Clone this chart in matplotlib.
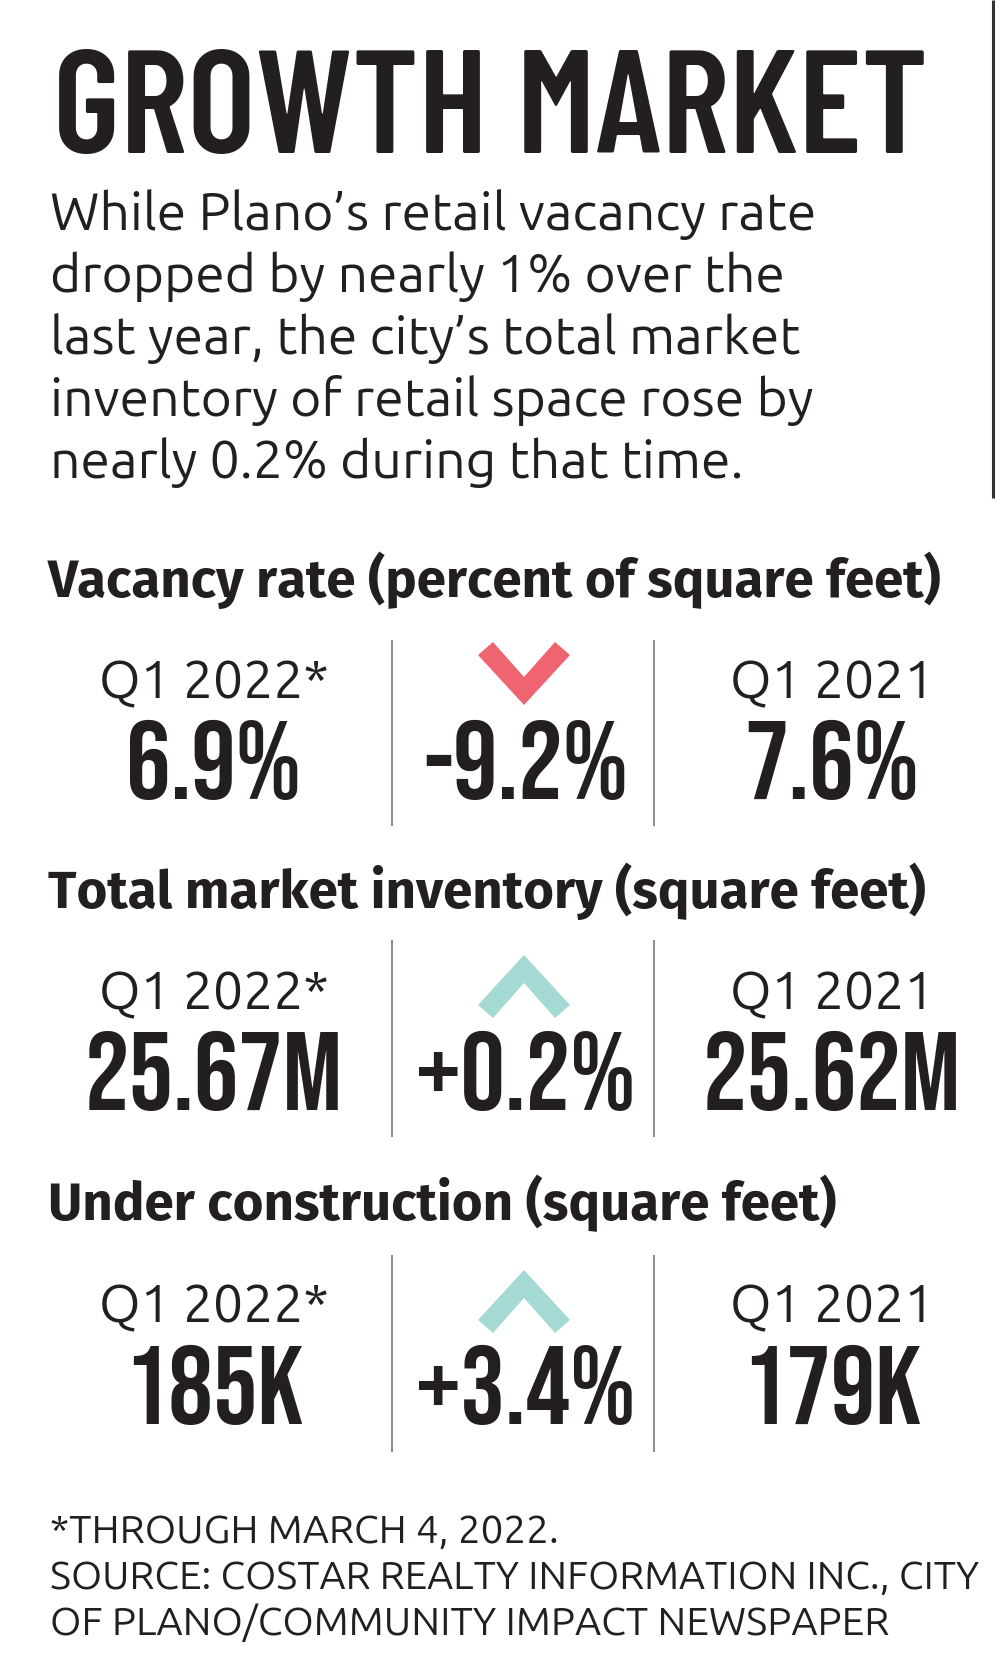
import matplotlib
matplotlib.use("Agg")
import matplotlib.pyplot as plt
from matplotlib.patches import Polygon

# --- Data ----------------------------------------------------------------
title = "GROWTH MARKET"
intro_lines = [
    "While Plano’s retail vacancy rate",
    "dropped by nearly 1% over the",
    "last year, the city’s total market",
    "inventory of retail space rose by",
    "nearly 0.2% during that time.",
]
sections = [
    "Vacancy rate (percent of square feet)",
    "Total market inventory (square feet)",
    "Under construction (square feet)",
]
period_labels = ["Q1 2022*", "Q1 2021"]
current_values = ["6.9%", "25.67M", "185K"]
previous_values = ["7.6%", "25.62M", "179K"]
change_pct = [-9.2, 0.2, 3.4]
footnote_lines = [
    "*THROUGH MARCH 4, 2022.",
    "SOURCE: COSTAR REALTY INFORMATION INC., CITY",
    "OF PLANO/COMMUNITY IMPACT NEWSPAPER",
]

# --- Style / layout ------------------------------------------------------
INK = "#231f20"
DOWN_COLOR = "#ee6470"
UP_COLOR = "#a4dad3"
RULE_COLOR = "#8c8c8c"

TITLE_FONT = ["Barlow Condensed", "DejaVu Sans"]
NUM_FONT = ["Bebas Neue", "Barlow Condensed", "DejaVu Sans"]
BODY = ["Ubuntu", "DejaVu Sans"]
HEAD = ["Fira Sans", "DejaVu Sans"]

W, H = 1000, 1680
LEFT = 50
col_x = [214, 526, 832]
divider_x = [392, 654]
header_y = [597, 908, 1220]
rule_top = [640, 940, 1255]
rule_bottom = [826, 1137, 1452]
label_y = [698, 1009, 1322]
value_y = [799, 1110, 1424]

fig = plt.figure(figsize=(W / 100, H / 100), dpi=100)
ax = fig.add_axes([0, 0, 1, 1])
ax.set_xlim(0, W)
ax.set_ylim(H, 0)
ax.axis("off")
renderer = fig.canvas.get_renderer()


def put(x, y, s, size, family, max_w=None, fit=False, **kw):
    t = ax.text(x, y, s, fontsize=size, family=family, color=INK,
                va="baseline", **kw)
    if max_w:
        w = t.get_window_extent(renderer).width
        if w > max_w or fit:
            t.set_fontsize(size * max_w / w)
    return t


# title and intro
put(LEFT + 3, 153, title, 118, TITLE_FONT, max_w=875, fit=True, fontweight=600)
for i, line in enumerate(intro_lines):
    put(LEFT, 230 + i * 62, line, 38.5, BODY, max_w=800)
ax.plot([993, 993], [0, 498], color="#333333", lw=2.2, solid_capstyle="butt")

# chevron shape (unit: px), pointing down; flipped for increases
chev_dx = [-46, -31, 0, 31, 46, 0]
chev_dy = [13, 0, 35, 0, 13, 63]

for i, name in enumerate(sections):
    put(LEFT - 2, header_y[i], name, 38, HEAD, max_w=900, fontweight="bold")
    for dx in divider_x:
        ax.plot([dx, dx], [rule_top[i], rule_bottom[i]], color=RULE_COLOR,
                lw=1.4, solid_capstyle="butt")

    put(col_x[0], label_y[i], period_labels[0], 38.5, BODY, max_w=300, ha="center")
    put(col_x[2], label_y[i], period_labels[1], 38.5, BODY, max_w=300, ha="center")

    put(col_x[0], value_y[i], current_values[i], 80, NUM_FONT, max_w=290, ha="center")
    put(col_x[2], value_y[i], previous_values[i], 80, NUM_FONT, max_w=290, ha="center")
    put(col_x[1], value_y[i], f"{change_pct[i]:+.1f}%", 80, NUM_FONT, max_w=220,
        ha="center")

    going_up = change_pct[i] > 0
    top = rule_top[i] + (15 if going_up else 2)
    dys = [63 - d for d in chev_dy] if going_up else chev_dy
    pts = [(col_x[1] - 2 + a, top + b) for a, b in zip(chev_dx, dys)]
    ax.add_patch(Polygon(pts, closed=True, lw=0,
                         facecolor=UP_COLOR if going_up else DOWN_COLOR))

for i, line in enumerate(footnote_lines):
    put(LEFT, 1543 + i * 46, line, 29, BODY, max_w=930)

fig.savefig("out.png", dpi=100, facecolor="white")
